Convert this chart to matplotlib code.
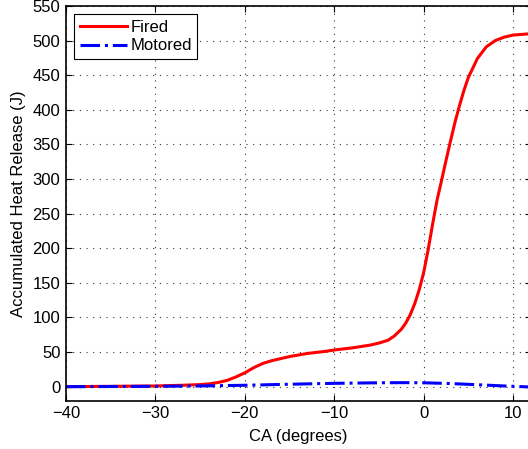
import numpy as np
import matplotlib.pyplot as plt

plt.rcParams['font.family'] = ['Liberation Sans', 'DejaVu Sans']

# crank angle (degrees) and accumulated heat release (J)
ca_fired = [-40, -35, -30, -27, -25, -24, -23, -22, -21, -20, -19, -18, -17, -16,
            -15, -13, -11, -10, -8, -6, -5, -4, -3.3, -2.5, -2, -1.5, -1, -0.5,
            0, 0.5, 1, 1.5, 2, 2.5, 3, 3.5, 4, 4.5, 5, 6, 7, 8, 9, 10, 11, 12]
q_fired = [0, 0.5, 1, 2, 3, 4, 6, 9, 14, 20, 27.5, 33.5, 37.5, 40.5,
           43.5, 48, 51, 53, 56, 60, 63, 67, 73, 83, 92, 104, 120, 140,
           165, 198, 235, 270, 298, 327, 355, 382, 406, 428, 447, 474, 491, 500, 505, 508, 509, 510]

ca_motored = [-40, -35, -30, -25, -20, -15, -10, -5, -2, 0, 3, 6, 9, 12]
q_motored = [0, 0.2, 0.5, 1, 2, 3.5, 4.8, 5.6, 5.8, 5.6, 4.5, 2.8, 1, -0.5]

fig = plt.figure(figsize=(5.28, 4.49), dpi=100)
ax = fig.add_axes([66/528, 48.5/449, 465/528, 394.5/449])

ax.plot(ca_fired, q_fired, color='red', lw=2.2, label='Fired')
ax.plot(ca_motored, q_motored, color='blue', lw=2.2, ls='-.', label='Motored')

ax.set_xlim(-40, 12)
ax.set_ylim(-20, 550)
ax.set_xticks(np.arange(-40, 11, 10))
ax.set_yticks(np.arange(0, 551, 50))
ax.set_xticklabels(['\u221240', '\u221230', '\u221220', '\u221210', '0', '10'])
ax.tick_params(direction='in', top=True, right=True, labelsize=12, length=4, width=0.8, pad=4)
ax.grid(True, color='black', ls=(0, (1, 5)), lw=0.8, alpha=0.8)
for s in ax.spines.values():
    s.set_linewidth(1.2)

ax.set_xlabel('CA (degrees)', fontsize=12, labelpad=6)
ax.set_ylabel('Accumulated Heat Release (J)', fontsize=12, labelpad=5)

leg = ax.legend(loc='upper left', fontsize=12, fancybox=False, framealpha=1,
                edgecolor='black', handlelength=2.8, borderpad=0.35,
                labelspacing=0.2, handletextpad=0.2, borderaxespad=0.5)
leg.get_frame().set_linewidth(0.8)

fig.savefig('out.png', dpi=100)
